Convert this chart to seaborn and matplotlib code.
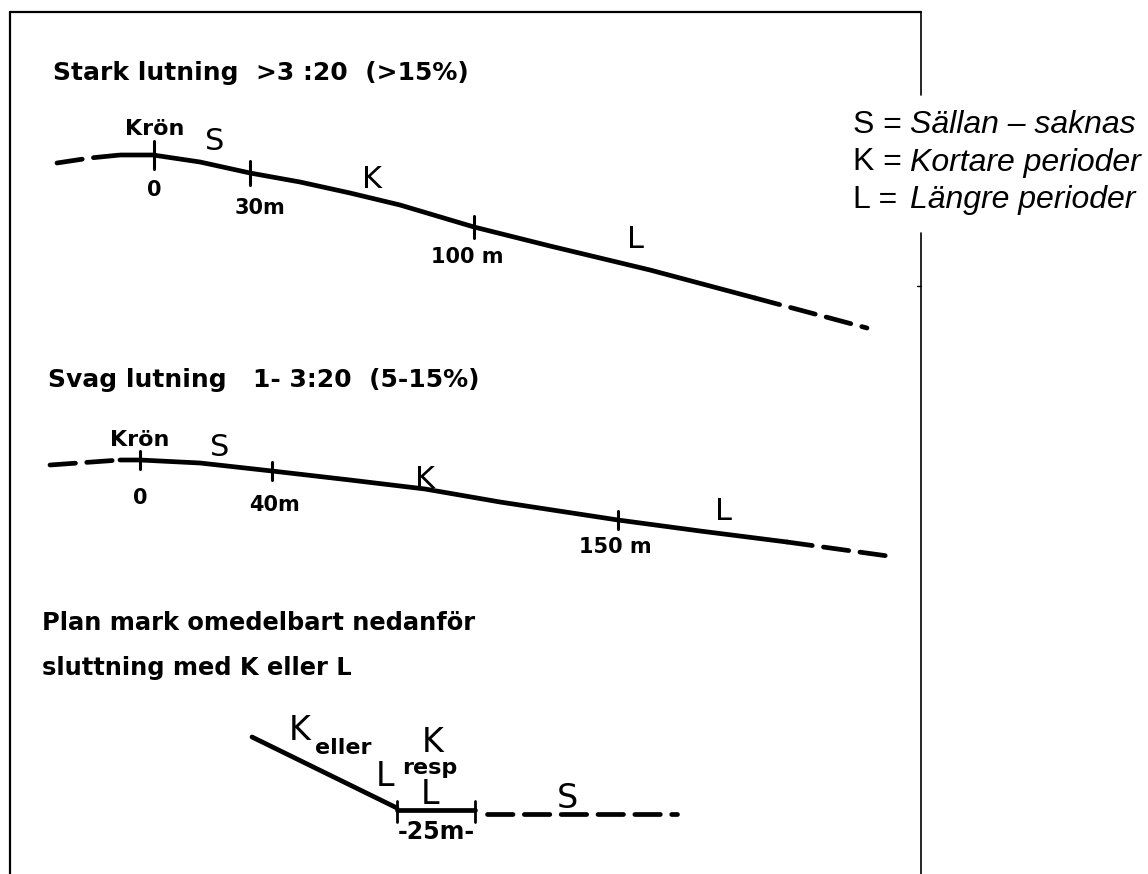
import matplotlib
matplotlib.use("Agg")
import matplotlib.pyplot as plt
import seaborn as sns
import numpy as np
import pandas as pd

# profile data (picture pixels: x to the right, y downwards)
stark_x = [120, 153, 200, 250, 300, 350, 400, 474, 550, 650, 755]
stark_y = [155, 155, 162, 173, 182, 193, 205, 227, 246, 270, 298]
stark_dash_left_x = [57, 90, 120]
stark_dash_left_y = [163, 158, 155]
stark_dash_right_x = [755, 867]
stark_dash_right_y = [298, 328]
stark_ticks = [154, 250, 474]
stark_tick_labels = ["0", "30m", "100 m"]

svag_x = [120, 140, 200, 272, 350, 425, 500, 618, 700, 787]
svag_y = [460, 460, 463, 471, 480, 489, 502, 520, 531, 542]
svag_dash_left_x = [50, 120]
svag_dash_left_y = [465, 460]
svag_dash_right_x = [787, 895]
svag_dash_right_y = [542, 557]
svag_ticks = [140, 272, 618]
svag_tick_labels = ["0", "40m", "150 m"]

plan_slope_x = [252, 397]
plan_slope_y = [737, 808]
plan_flat_x = [397, 475]
plan_flat_y = [810, 810]
plan_dash_x = [487, 677]
plan_dash_y = [814, 814]
plan_ticks = [397, 475]

legend_keys = ["S = ", "K = ", "L = "]
legend_texts = ["Sällan – saknas", "Kortare perioder", "Längre perioder"]

sns.set_theme(style="white")
plt.rcParams["font.family"] = ["DejaVu Sans"]
plt.rcParams["text.color"] = "black"

fig = plt.figure(figsize=(11.48, 8.74), dpi=100)
ax = fig.add_axes([0, 0, 1, 1])
ax.set_xlim(0, 1148)
ax.set_ylim(874, 0)
ax.axis("off")

LW = 3.4
DASH = (0, (5.4, 2.4))


def line(x, y, dashed=False, lw=LW):
    df = pd.DataFrame({"x": x, "y": y})
    kw = dict(color="black", linewidth=lw, solid_capstyle="round",
              dash_capstyle="round")
    if dashed:
        kw["linestyle"] = DASH
    sns.lineplot(data=df, x="x", y="y", ax=ax, sort=False, estimator=None,
                 legend=False, **kw)


def label(x, y, s, size, bold=True, ha="center"):
    ax.text(x, y, s, ha=ha, va="center", fontsize=size,
            fontweight="bold" if bold else "normal")


# frame
line([10, 10], [12, 874], lw=1.6)
line([10, 921], [12, 12], lw=1.6)
line([921, 921], [12, 95], lw=1.2)
line([921, 921], [233, 874], lw=1.2)
line([917, 921], [286, 286], lw=1.0)

# Stark lutning
line(stark_x, stark_y)
line(stark_dash_left_x, stark_dash_left_y, dashed=True)
line(stark_dash_right_x, stark_dash_right_y, dashed=True)
for tx, half in zip(stark_ticks, [14, 12, 11]):
    ty = np.interp(tx, stark_x, stark_y)
    line([tx, tx], [ty - half, ty + half], lw=2.2)
label(154, 190, stark_tick_labels[0], 15)
label(260, 208, stark_tick_labels[1], 15)
label(467, 257, stark_tick_labels[2], 15)
label(155, 129, "Krön", 16)
label(215, 142, "S", 22, bold=False)
label(372, 180, "K", 22, bold=False)
label(635, 240, "L", 22, bold=False)
label(53, 73, "Stark lutning  >3 :20  (>15%)", 18, ha="left")

# Svag lutning
line(svag_x, svag_y)
line(svag_dash_left_x, svag_dash_left_y, dashed=True)
line(svag_dash_right_x, svag_dash_right_y, dashed=True)
for tx in svag_ticks:
    ty = np.interp(tx, svag_x, svag_y)
    line([tx, tx], [ty - 9, ty + 9], lw=2.2)
label(140, 498, svag_tick_labels[0], 15)
label(275, 505, svag_tick_labels[1], 15)
label(615, 547, svag_tick_labels[2], 15)
label(140, 440, "Krön", 16)
label(220, 448, "S", 22, bold=False)
label(425, 480, "K", 22, bold=False)
label(723, 512, "L", 22, bold=False)
label(48, 380, "Svag lutning   1- 3:20  (5-15%)", 18, ha="left")

# Plan mark
line(plan_slope_x, plan_slope_y)
line(plan_flat_x, plan_flat_y)
line(plan_dash_x, plan_dash_y, dashed=True)
for tx in plan_ticks:
    line([tx, tx], [801, 822], lw=2.0)
label(42, 623, "Plan mark omedelbart nedanför", 17.4, ha="left")
label(42, 668, "sluttning med K eller L", 17.4, ha="left")
label(300, 730, "K", 24, bold=False)
label(343, 748, "eller", 16)
label(385, 777, "L", 24, bold=False)
label(433, 742, "K", 24, bold=False)
label(430, 768, "resp", 16)
label(430, 795, "L", 24, bold=False)
label(567, 798, "S", 24, bold=False)
label(436, 832, "-25m-", 17)

# legend text
for i, (k, t) in enumerate(zip(legend_keys, legend_texts)):
    yy = 125 + i * 37.5
    ax.text(853, yy, k, ha="left", va="center", fontsize=23,
            family=["Liberation Sans", "DejaVu Sans"])
    ax.text(910, yy, t, ha="left", va="center", fontsize=23, style="italic",
            family=["Liberation Sans", "DejaVu Sans"])

fig.savefig("out.png", dpi=100, facecolor="white")
